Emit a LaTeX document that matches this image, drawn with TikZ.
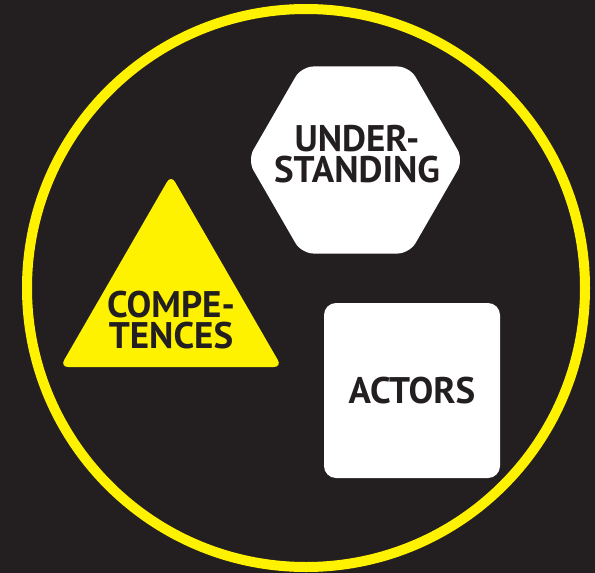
\documentclass[tikz,border=0pt]{standalone}
\usepackage{fontspec}
\setmainfont{PT Sans}
\usetikzlibrary{shapes.geometric}
\definecolor{ink}{HTML}{231F20}
\definecolor{sun}{HTML}{FFF200}
\tikzset{
  tile/.style  = {fill=white, draw=none, inner sep=0pt, outer sep=0pt},
  hexa/.style  = {tile, regular polygon, regular polygon sides=6,
                  minimum size=#1, rounded corners=12pt},
  tri/.style   = {tile, fill=sun, regular polygon, regular polygon sides=3,
                  minimum size=#1, rounded corners=8pt},
  sqr/.style   = {tile, rectangle, minimum width=176pt, minimum height=175pt,
                  rounded corners=12pt},
  ring/.style  = {circle, draw=sun, line width=10pt, minimum size=#1,
                  inner sep=0pt, outer sep=0pt},
  word/.style  = {font=\bfseries\fontsize{37}{31}\selectfont, text=ink,
                  align=center, inner sep=0pt},
}

\begin{document}
\begin{tikzpicture}[x=1pt, y=-1pt]

\fill[ink] (0,0) rectangle (595,573);
\useasboundingbox (0,0) rectangle (595,573);

\node[ring=558pt] (frame) at (306,288) {};

\node[hexa=216pt] (hex) at (355.5,160) {};
\node[tri=256pt] (triangle) at (171,303) {};
\node[sqr] (square) at (412,390.5) {};

\node[word] (under) at (357,154) {UNDER-\\STANDING};
\node[word] (compe) at (171,320) {COMPE-\\TENCES};
\node[word] (actors) at (square.center) {ACTORS};

\end{tikzpicture}
\end{document}
